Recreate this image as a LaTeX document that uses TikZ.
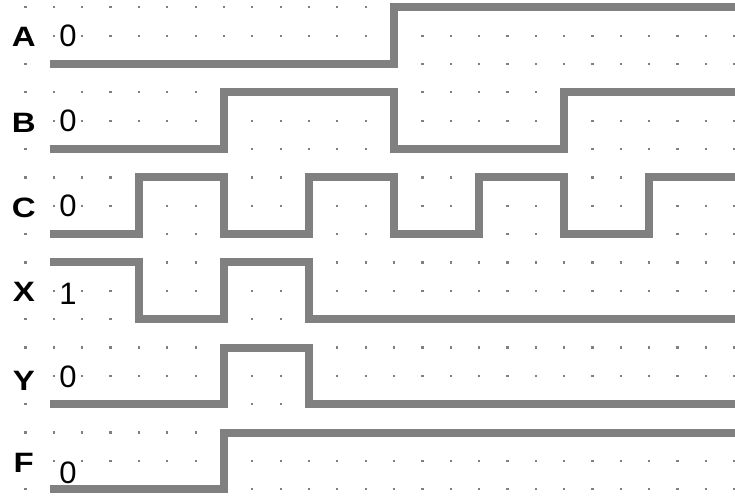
\documentclass[tikz,border=0pt]{standalone}
\usepackage{fontspec}
\setmainfont{Liberation Sans}
\newfontfamily\widebold[FakeStretch=1.18]{Liberation Sans Bold}
\definecolor{wavegray}{RGB}{128,128,128}
\definecolor{dotgray}{RGB}{128,128,128}
\begin{document}
\begin{tikzpicture}[x=28.35pt,y=-28.35pt,
  wave/.style={draw=wavegray,line width=8pt,line cap=rect,line join=miter},
  sig/.style={font=\fontsize{28}{30}\selectfont\widebold,inner sep=0pt},
  val/.style={font=\fontsize{31}{33}\selectfont,inner sep=0pt}]
\useasboundingbox (-0.8995,-0.2575) rectangle (25.026,17.238);
\clip (-0.8995,-0.2575) rectangle (25.026,17.238);
% dot grid
\foreach \j in {0,...,17}{
  \foreach \i in {0,...,25}{
    \pgfmathtruncatemacro\hideit{and(\i==0,mod(\j,3)==1)}
    \ifnum\hideit=0
      \fill[dotgray] (\i,\j) ++(-1.1pt,-1.1pt) rectangle ++(2.2pt,2.2pt);
    \fi
  }
}
% waveforms
\draw[wave] (1,2) -- (13,2) -- (13,0) -- (25,0);
\draw[wave] (1,5) -- (7,5) -- (7,3) -- (13,3) -- (13,5) -- (19,5) -- (19,3) -- (25,3);
\draw[wave] (1,8) -- (4,8) -- (4,6) -- (7,6) -- (7,8) -- (10,8) -- (10,6) -- (13,6) -- (13,8)
  -- (16,8) -- (16,6) -- (19,6) -- (19,8) -- (22,8) -- (22,6) -- (25,6);
\draw[wave] (1,9) -- (4,9) -- (4,11) -- (7,11) -- (7,9) -- (10,9) -- (10,11) -- (25,11);
\draw[wave] (1,14) -- (7,14) -- (7,12) -- (10,12) -- (10,14) -- (25,14);
\draw[wave] (1,17) -- (7,17) -- (7,15) -- (25,15);
% labels
\node[sig] (labA) at (-0.06,1.06) {A};
\node[sig] (labB) at (-0.06,4.09) {B};
\node[sig] (labC) at (-0.06,7.08) {C};
\node[sig] (labX) at (-0.06,10.03) {X};
\node[sig] (labY) at (-0.06,13.17) {Y};
\node[sig] (labF) at (-0.06,16.08) {F};
\node[val] (valA) at (1.5,1.0) {0};
\node[val] (valB) at (1.5,4.0) {0};
\node[val] (valC) at (1.5,7.0) {0};
\node[val] (valX) at (1.5,10.1) {1};
\node[val] (valY) at (1.5,13.05) {0};
\node[val] (valF) at (1.5,16.43) {0};
\end{tikzpicture}
\end{document}
